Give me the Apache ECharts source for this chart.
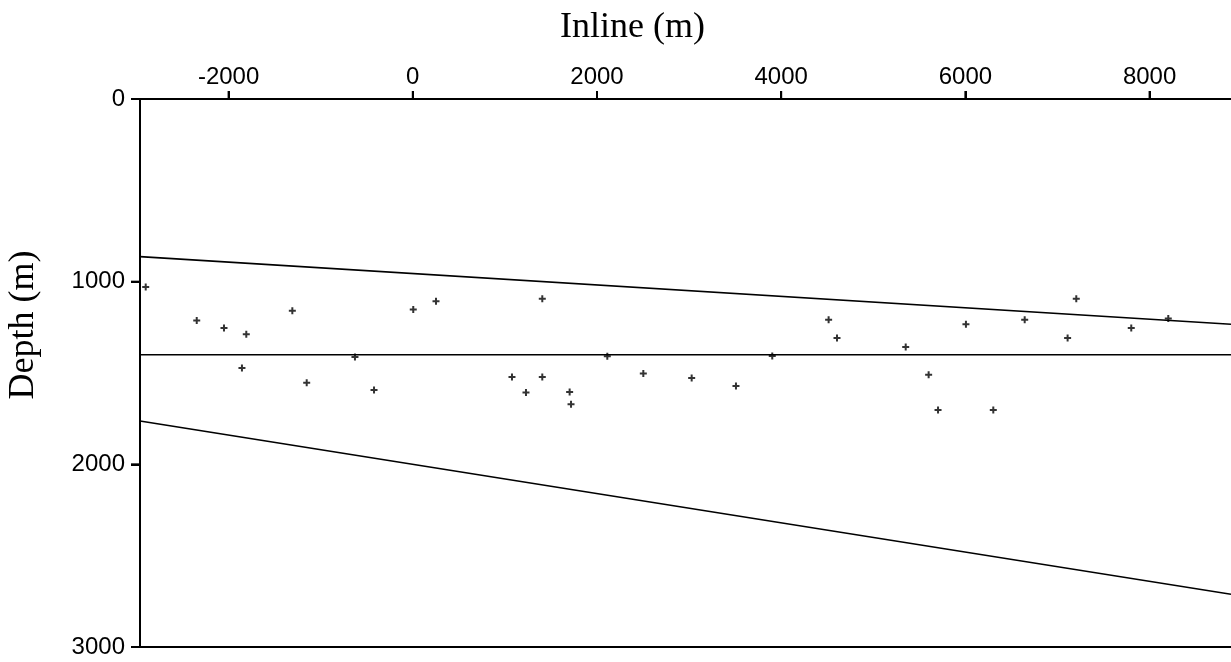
<!DOCTYPE html>
<html>
<head>
<meta charset="utf-8">
<script src="https://cdn.jsdelivr.net/npm/echarts@6/dist/echarts.min.js"></script>
<style>
html,body{margin:0;padding:0;background:#fff;}
#chart{width:1231px;height:662px;}
</style>
</head>
<body>
<div id="chart"></div>
<script>
// Axis extents and ticks
var xMin = -2962, xMax = 8884;
var yMin = 0, yMax = 3000;
var xTicks = [-2000, 0, 2000, 4000, 6000, 8000];
var yTicks = [0, 1000, 2000, 3000];

// Picked points: inline (m) and depth (m)
var pointInline = [-2900, -2346, -2050, -1808, -1855, -1308, -1152, -628, -421, 5, 252,
  1077, 1229, 1406, 1406, 1703, 1718, 2112, 2503, 3028, 3509, 3903, 4515, 4606,
  5352, 5601, 5703, 6006, 6303, 6644, 7110, 7204, 7801, 8203];
var pointDepth = [1029, 1213, 1253, 1288, 1472, 1159, 1553, 1412, 1593, 1153, 1107,
  1522, 1607, 1093, 1522, 1604, 1671, 1408, 1503, 1527, 1571, 1407, 1208, 1308,
  1357, 1509, 1702, 1233, 1702, 1208, 1308, 1093, 1253, 1202];

// Straight lines: endpoints (inline, depth)
var upperLine = [[-2962, 863], [8884, 1233]];
var middleLine = [[-2962, 1400], [8884, 1400]];
var lowerLine = [[-2962, 1763], [8884, 2711]];

var points = pointInline.map(function (x, i) { return [x, pointDepth[i]]; });
var plus = 'path://M-1,-3.5h2v2.5h2.5v2h-2.5v2.5h-2v-2.5h-2.5v-2h2.5z';

function lineSeries(data) {
  return {
    type: 'line', data: data, symbol: 'none', silent: true,
    lineStyle: { color: '#000', width: 1.6 }, z: 3
  };
}
function plain(v) { return String(v); }

// tick marks drawn through the axes' own scales
function tickSeries(values, isX) {
  return {
    type: 'custom', silent: true, clip: false, z: 5,
    data: values.map(function (v) { return isX ? [v, yMin] : [xMin, v]; }),
    encode: { x: 0, y: 1 },
    renderItem: function (params, api) {
      var p = api.coord([api.value(0), api.value(1)]);
      var shape = isX
        ? { x1: p[0], y1: p[1], x2: p[0], y2: p[1] - 8 }
        : { x1: p[0], y1: p[1], x2: p[0] - 9, y2: p[1] };
      return { type: 'line', shape: shape, style: { stroke: '#000', lineWidth: 2 } };
    }
  };
}

var chart = echarts.init(document.getElementById('chart'), null, { renderer: 'canvas' });
chart.setOption({
  animation: false,
  backgroundColor: '#fff',
  grid: { left: 140, right: 0, top: 99, bottom: 15, outerBoundsMode: 'none' },
  xAxis: [{
    type: 'value', position: 'top', min: xMin, max: xMax,
    name: 'Inline (m)', nameLocation: 'middle', nameGap: 53,
    nameTextStyle: { fontFamily: 'Liberation Serif', fontSize: 36, color: '#000', padding: [0, 106, 0, 0] },
    axisLine: { show: true, onZero: false, lineStyle: { color: '#000', width: 2 } },
    axisTick: { show: true, length: 8, lineStyle: { color: '#000', width: 2 }, customValues: xTicks },
    axisLabel: { fontFamily: 'Liberation Sans', fontSize: 24, color: '#000', margin: 10, customValues: xTicks, formatter: plain },
    splitLine: { show: false }
  }, {
    type: 'value', position: 'bottom', min: xMin, max: xMax,
    axisLine: { show: true, onZero: false, lineStyle: { color: '#000', width: 2 } },
    axisTick: { show: false }, axisLabel: { show: false }, splitLine: { show: false }
  }],
  yAxis: {
    type: 'value', inverse: true, min: yMin, max: yMax, interval: 1000,
    name: 'Depth (m)', nameLocation: 'middle', nameGap: 98,
    nameTextStyle: { fontFamily: 'Liberation Serif', fontSize: 36, color: '#000', padding: [0, 0, 0, 96] },
    axisLine: { show: true, onZero: false, lineStyle: { color: '#000', width: 2 } },
    axisTick: { show: true, length: 9, lineStyle: { color: '#000', width: 2 } },
    axisLabel: { fontFamily: 'Liberation Sans', fontSize: 24, color: '#000', margin: 15, formatter: plain },
    splitLine: { show: false }
  },
  series: [
    lineSeries(upperLine),
    lineSeries(middleLine),
    lineSeries(lowerLine),
    {
      type: 'scatter', data: points, symbol: plus, symbolSize: 7,
      itemStyle: { color: '#000' }, z: 4
    },
    tickSeries(xTicks, true),
    tickSeries(yTicks, false)
  ]
});
</script>
</body>
</html>
